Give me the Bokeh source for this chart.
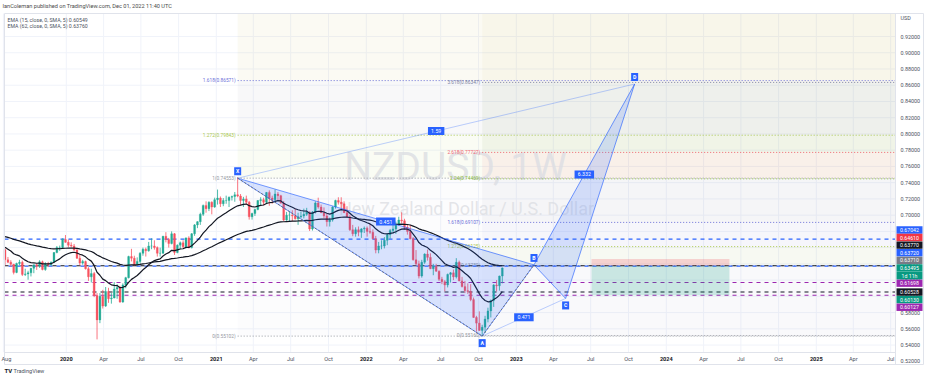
import pandas as pd
from bokeh.plotting import figure
from bokeh.models import ColumnDataSource
from bokeh.core.properties import value
from bokeh.embed import file_html
from bokeh.resources import INLINE

# ---------------- DATA ----------------
FIRST_WEEK = "2019-08-05"
first_open = 0.6575

highs_2019 = [0.6590, 0.6485, 0.6445, 0.6400, 0.6415, 0.6450, 0.6440, 0.6340, 0.6315, 0.6350, 0.6390,
              0.6405, 0.6445, 0.6440, 0.6420, 0.6425, 0.6430, 0.6545, 0.6620, 0.6625, 0.6715, 0.6755]
lows_2019 = [0.6380, 0.6410, 0.6365, 0.6270, 0.6285, 0.6380, 0.6250, 0.6250, 0.6205, 0.6245, 0.6285,
             0.6325, 0.6350, 0.6320, 0.6315, 0.6360, 0.6375, 0.6410, 0.6530, 0.6560, 0.6590, 0.6660]
closes_2019 = [0.6450, 0.6420, 0.6395, 0.6295, 0.6405, 0.6420, 0.6270, 0.6275, 0.6290, 0.6345, 0.6390,
               0.6370, 0.6425, 0.6330, 0.6405, 0.6390, 0.6420, 0.6540, 0.6600, 0.6600, 0.6700, 0.6665]

highs_2020 = [0.6700, 0.6665, 0.6645, 0.6595, 0.6515, 0.6450, 0.6440, 0.6360, 0.6340, 0.6300, 0.6040, 0.6040, 0.6080,
              0.6115, 0.6105, 0.6040, 0.6175, 0.6150, 0.6130, 0.6160, 0.6240, 0.6500, 0.6585, 0.6500, 0.6480, 0.6545,
              0.6600, 0.6600, 0.6670, 0.6715, 0.6690, 0.6615, 0.6600, 0.6745, 0.6790, 0.6720, 0.6800, 0.6780, 0.6640,
              0.6675, 0.6690, 0.6725, 0.6740, 0.6780, 0.6890, 0.6925, 0.7030, 0.7130, 0.7170, 0.7170, 0.7170, 0.7215]
lows_2020 = [0.6605, 0.6600, 0.6560, 0.6460, 0.6380, 0.6390, 0.6330, 0.6190, 0.6170, 0.5990, 0.5470, 0.5670, 0.5850,
             0.5870, 0.5920, 0.5910, 0.5975, 0.5970, 0.5920, 0.5920, 0.6100, 0.6220, 0.6430, 0.6380, 0.6380, 0.6400,
             0.6500, 0.6490, 0.6550, 0.6580, 0.6575, 0.6490, 0.6490, 0.6525, 0.6665, 0.6600, 0.6640, 0.6510, 0.6530,
             0.6580, 0.6590, 0.6590, 0.6590, 0.6590, 0.6745, 0.6840, 0.6880, 0.6990, 0.7030, 0.7050, 0.7010, 0.7090]
closes_2020 = [0.6630, 0.6620, 0.6570, 0.6470, 0.6410, 0.6430, 0.6340, 0.6240, 0.6280, 0.6010, 0.5710, 0.6000, 0.5880,
               0.6060, 0.5970, 0.5980, 0.6090, 0.6110, 0.5930, 0.6140, 0.6230, 0.6490, 0.6470, 0.6390, 0.6430, 0.6530,
               0.6580, 0.6560, 0.6620, 0.6620, 0.6600, 0.6530, 0.6530, 0.6740, 0.6700, 0.6650, 0.6770, 0.6540, 0.6630,
               0.6660, 0.6610, 0.6720, 0.6600, 0.6770, 0.6880, 0.6920, 0.7010, 0.7120, 0.7080, 0.7160, 0.7100, 0.7190]

highs_2021 = [0.7315, 0.7230, 0.7210, 0.7240, 0.7230, 0.7240, 0.7285, 0.7465, 0.7260, 0.7225, 0.7240, 0.7175, 0.7030,
              0.7080, 0.7185, 0.7220, 0.7215, 0.7285, 0.7305, 0.7240, 0.7315, 0.7285, 0.7250, 0.7175, 0.7040, 0.7045,
              0.7060, 0.7080, 0.7030, 0.7045, 0.7080, 0.7090, 0.7045, 0.7050, 0.7170, 0.7215, 0.7130, 0.7095, 0.7020,
              0.6970, 0.7110, 0.7190, 0.7220, 0.7220, 0.7170, 0.7110, 0.7000, 0.6880, 0.6850, 0.6860, 0.6840, 0.6860]
lows_2021 = [0.7130, 0.7100, 0.7110, 0.7140, 0.7100, 0.7180, 0.7165, 0.7220, 0.7120, 0.7100, 0.7130, 0.6945, 0.6945,
             0.6990, 0.7060, 0.7125, 0.7120, 0.7140, 0.7115, 0.7140, 0.7170, 0.7180, 0.7140, 0.6925, 0.6930, 0.6925,
             0.6925, 0.6945, 0.6880, 0.6960, 0.6960, 0.6990, 0.6805, 0.6810, 0.7020, 0.7080, 0.7025, 0.6960, 0.6860,
             0.6860, 0.6920, 0.7080, 0.7130, 0.7080, 0.7025, 0.6975, 0.6805, 0.6740, 0.6735, 0.6740, 0.6720, 0.6780]
closes_2021 = [0.7210, 0.7140, 0.7180, 0.7180, 0.7220, 0.7230, 0.7250, 0.7235, 0.7180, 0.7200, 0.7160, 0.6980, 0.7020,
               0.7070, 0.7180, 0.7190, 0.7160, 0.7280, 0.7210, 0.7190, 0.7260, 0.7240, 0.7150, 0.6940, 0.7000, 0.7000,
               0.6990, 0.6955, 0.6980, 0.6990, 0.7010, 0.7040, 0.6830, 0.7040, 0.7150, 0.7100, 0.7030, 0.6990, 0.6920,
               0.6940, 0.7100, 0.7180, 0.7160, 0.7140, 0.7030, 0.6980, 0.6820, 0.6770, 0.6820, 0.6790, 0.6830, 0.6840]

highs_2022 = [0.6860, 0.6890, 0.6825, 0.6745, 0.6670, 0.6690, 0.6730, 0.6780, 0.6830, 0.6890, 0.6920, 0.6980,
              0.7035, 0.6955, 0.6890, 0.6880, 0.6730, 0.6570, 0.6440, 0.6450, 0.6530, 0.6575, 0.6530, 0.6400,
              0.6400, 0.6320, 0.6240, 0.6200, 0.6280, 0.6300, 0.6330, 0.6470, 0.6440, 0.6240, 0.6190, 0.6160,
              0.6150, 0.5985, 0.5760, 0.5815, 0.5650, 0.5760, 0.5860, 0.5960, 0.6150, 0.6200, 0.6255, 0.6355]
lows_2022 = [0.6735, 0.6770, 0.6700, 0.6530, 0.6530, 0.6580, 0.6590, 0.6630, 0.6710, 0.6775, 0.6770, 0.6870,
             0.6900, 0.6820, 0.6760, 0.6700, 0.6440, 0.6380, 0.6220, 0.6230, 0.6400, 0.6440, 0.6335, 0.6260,
             0.6300, 0.6190, 0.6150, 0.6060, 0.6110, 0.6170, 0.6200, 0.6220, 0.6185, 0.6110, 0.6040, 0.6030,
             0.5940, 0.5735, 0.5565, 0.5575, 0.55102, 0.5550, 0.5680, 0.5740, 0.5870, 0.6060, 0.6070, 0.6160]
closes_2022 = [0.6800, 0.6790, 0.6710, 0.6570, 0.6620, 0.6620, 0.6690, 0.6760, 0.6810, 0.6830, 0.6890, 0.6940,
               0.6930, 0.6850, 0.6800, 0.6710, 0.6450, 0.6400, 0.6250, 0.6420, 0.6520, 0.6480, 0.6340, 0.6370,
               0.6310, 0.6210, 0.6180, 0.6140, 0.6270, 0.6290, 0.6240, 0.6420, 0.6190, 0.6120, 0.6070, 0.6060,
               0.5960, 0.5740, 0.5670, 0.5580, 0.5620, 0.5720, 0.5820, 0.5950, 0.6140, 0.6130, 0.6250, 0.63495]

ema15_start, ema62_start = 0.6626, 0.6745
ema_legend = ["EMA (15, close, 0, SMA, 5) 0.60549", "EMA (62, close, 0, SMA, 5) 0.63760"]

price_ticks = [0.52, 0.54, 0.56, 0.58, 0.60, 0.62, 0.64, 0.66, 0.68, 0.70, 0.72, 0.74,
               0.76, 0.78, 0.80, 0.82, 0.84, 0.86, 0.88, 0.90, 0.92]
time_tick_dates = ["2019-08-01",
                   "2020-01-01", "2020-04-01", "2020-07-01", "2020-10-01",
                   "2021-01-01", "2021-04-01", "2021-07-01", "2021-10-01",
                   "2022-01-01", "2022-04-01", "2022-07-01", "2022-10-01",
                   "2023-01-01", "2023-04-01", "2023-07-01", "2023-10-01",
                   "2024-01-01", "2024-04-01", "2024-07-01", "2024-10-01",
                   "2025-01-01", "2025-04-01", "2025-07-01"]
time_tick_labels = ["Aug", "2020", "Apr", "Jul", "Oct", "2021", "Apr", "Jul", "Oct", "2022", "Apr", "Jul", "Oct",
                    "2023", "Apr", "Jul", "Oct", "2024", "Apr", "Jul", "Oct", "2025", "Apr", "Jul"]

# XABCD pattern
pat_names = ["X", "A", "B", "C", "D"]
pat_dates = ["2021-02-22", "2022-10-10", "2023-02-13", "2023-05-01", "2023-10-16"]
pat_prices = [0.74553, 0.55102, 0.63874, 0.59742, 0.86150]
pat_ratio_labels = ["1.59", "0.451", "0.471", "6.332"]
pat_ratio_pairs = [("X", "D"), ("X", "B"), ("A", "C"), ("B", "D")]

# Fibonacci (left: retracement from X to A; right: trend extension from A)
fib_left_levels = [0, 1, 1.272, 1.618]
fib_left_values = [0.55102, 0.74553, 0.79843, 0.86571]
fib_right_levels = [0, 1, 1.272, 1.618, 2.24, 2.618, 3.618]
fib_right_values = [0.55160, 0.63780, 0.66125, 0.69107, 0.74469, 0.77727, 0.86347]

# short position tool
pos_dates = ["2023-07-03", "2024-06-03"]
pos_entry, pos_stop, pos_target = 0.63770, 0.64610, 0.60130

# horizontal lines across the chart
hline_prices = [0.67042, 0.63720, 0.63770, 0.61698, 0.60528, 0.60127]

# price scale badges
axis_badge_prices = [0.67042, 0.64610, 0.63770, 0.63720, 0.63710, 0.63495, 0.61698, 0.60528, 0.60130, 0.60127]
countdown_text = "1d 11h"

header_text = "IanColeman published on TradingView.com, Dec 01, 2022 11:40 UTC"
watermark_1 = "NZDUSD, 1W"
watermark_2 = "New Zealand Dollar / U.S. Dollar"

# ---------------- STYLES ----------------
UP, DOWN = "#22ab94", "#f7525f"
BLUE = "#2962ff"
FONT = value("Roboto")
fib_left_colors = ["#9598a1", "#9598a1", "#a8c64a", "#6b6fd8"]
fib_left_band = [("#787b86", 0.02), ("#a8c64a", 0.06), ("#787b86", 0.05), ("#c9b458", 0.07)]
fib_right_colors = ["#9598a1", "#9598a1", "#a8c64a", "#6b6fd8", "#8cbf3f", "#f0616d", "#7b7f9e"]
fib_right_band = [("#787b86", 0.02), ("#a8c64a", 0.06), ("#6b6fd8", 0.04), ("#787b86", 0.05),
                  ("#f23645", 0.06), ("#6f8f4a", 0.07), ("#c9b458", 0.05)]
hline_colors = [BLUE, BLUE, "#131722", "#9c27b0", "#131722", "#9c27b0"]
hline_offsets = [0, 4, 0, 0, 0, 0]
axis_badge_colors = [BLUE, "#f23645", "#131722", BLUE, "#787b86", "#089981", "#9c27b0", "#131722", "#089981", "#9c27b0"]

# ---------------- HELPERS ----------------
W, H = 924, 375


def rx(px):  # canvas pixel -> year
    return 2022.5 + (px - 440.8) / 150.0


def ry(py):  # canvas pixel -> price
    return 0.92 - (py - 36.0) / 812.0


def dxp(n):
    return n / 150.0


def dyp(n):
    return n / 812.0


def fy(d):
    d = pd.Timestamp(d)
    days = 366 if d.is_leap_year else 365
    return d.year + (d.dayofyear - 1) / days


def ema(vals, n, seed):
    a = 2.0 / (n + 1)
    out, e = [], seed
    for v in vals:
        e = a * v + (1 - a) * e
        out.append(e)
    return out


highs = highs_2019 + highs_2020 + highs_2021 + highs_2022
lows = lows_2019 + lows_2020 + lows_2021 + lows_2022
closes = closes_2019 + closes_2020 + closes_2021 + closes_2022
opens = [first_open] + closes[:-1]
dates = pd.date_range(FIRST_WEEK, periods=len(closes), freq="7D")
xs = [fy(d) for d in dates]

# panel / scale layout (canvas pixels)
L, R, T, B = rx(4), rx(895), ry(13), ry(352)
AXR, BOT = rx(923), ry(364)

p = figure(width=W, height=H, x_range=(rx(0), rx(W)), y_range=(ry(H), ry(0)),
           output_backend="svg", toolbar_location=None, x_axis_type=None, y_axis_type=None)
p.min_border_left = p.min_border_right = p.min_border_top = p.min_border_bottom = 0
p.outline_line_color = None
p.background_fill_color = "white"
p.border_fill_color = "white"

# grid
p.segment(x0=[L] * len(price_ticks), x1=[R] * len(price_ticks), y0=price_ticks, y1=price_ticks,
          line_color="#f0f3fa", line_width=1)
txs = [fy(d) for d in time_tick_dates]
p.segment(x0=txs, x1=txs, y0=[B] * len(txs), y1=[T] * len(txs), line_color="#f0f3fa", line_width=1)

# fib bands
xX = fy(pat_dates[0])
xA = fy(pat_dates[1])
lv = fib_left_values + [T]
for i, (c, a) in enumerate(fib_left_band):
    p.quad(left=xX, right=R, bottom=lv[i], top=lv[i + 1], fill_color=c, fill_alpha=a, line_color=None)
rv = fib_right_values + [T]
for i, (c, a) in enumerate(fib_right_band):
    p.quad(left=xA, right=R, bottom=rv[i], top=rv[i + 1], fill_color=c, fill_alpha=a, line_color=None)

# watermark
p.text(x=[rx(455)], y=[ry(166)], text=[watermark_1], text_font=FONT, text_font_size="39px",
       text_color="#dcdee3", text_alpha=0.8, text_align="center", text_baseline="middle")
p.text(x=[rx(466)], y=[ry(208)], text=[watermark_2], text_font=FONT, text_font_size="18px",
       text_color="#dcdee3", text_alpha=0.8, text_align="center", text_baseline="middle")

# fib lines + labels
for vals, levels, colors, x0 in [(fib_left_values, fib_left_levels, fib_left_colors, xX),
                                 (fib_right_values, fib_right_levels, fib_right_colors, xA)]:
    n = len(vals)
    p.segment(x0=[x0] * n, x1=[R] * n, y0=vals, y1=vals, line_color=colors, line_width=1, line_dash="1 2")
    p.text(x=[x0 - dxp(2)] * n, y=vals, text=[f"{l:g}({v:.5f})" for l, v in zip(levels, vals)],
           text_color=colors, text_font=FONT, text_font_size="4.8px", text_align="right", text_baseline="middle")

# full-width horizontal lines
for v, c, off in zip(hline_prices, hline_colors, hline_offsets):
    p.segment(x0=[L], x1=[R], y0=[v], y1=[v], line_color=c, line_width=1.1, line_dash="4 4",
              line_dash_offset=off)

# position tool
px0, px1 = fy(pos_dates[0]), fy(pos_dates[1])
p.quad(left=px0, right=px1, bottom=pos_entry, top=pos_stop, fill_color="#f23645", fill_alpha=0.2, line_color=None)
p.quad(left=px0, right=px1, bottom=pos_target, top=pos_entry, fill_color="#089981", fill_alpha=0.2, line_color=None)

# candles
colors = [UP if c >= o else DOWN for o, c in zip(opens, closes)]
src = ColumnDataSource(dict(x=xs, o=opens, h=highs, l=lows, c=closes, color=colors,
                            top=[max(o, c) for o, c in zip(opens, closes)],
                            bottom=[min(o, c) for o, c in zip(opens, closes)]))
p.segment(x0="x", x1="x", y0="l", y1="h", line_color="color", line_width=0.8, source=src)
p.vbar(x="x", width=dxp(1.9), top="top", bottom="bottom", fill_color="color", line_color="color",
       line_width=0.3, source=src)

# EMAs
p.line(xs, ema(closes, 15, ema15_start), line_color="#131722", line_width=1.2)
p.line(xs, ema(closes, 62, ema62_start), line_color="#131722", line_width=1.2)

# XABCD pattern
pt = {n: (fy(d), v) for n, d, v in zip(pat_names, pat_dates, pat_prices)}
for tri in [("X", "A", "B"), ("B", "C", "D")]:
    p.patch([pt[k][0] for k in tri], [pt[k][1] for k in tri], fill_color=BLUE, fill_alpha=0.17,
            line_color=BLUE, line_alpha=0.65, line_width=1)
for a, b in [("X", "D"), ("A", "C")]:
    p.segment(x0=[pt[a][0]], y0=[pt[a][1]], x1=[pt[b][0]], y1=[pt[b][1]], line_color=BLUE,
              line_alpha=0.3, line_width=1)
for a, b in [("X", "A"), ("A", "B")]:
    p.segment(x0=[pt[a][0]], y0=[pt[a][1]], x1=[pt[b][0]], y1=[pt[b][1]], line_color="#6a6d78",
              line_width=1, line_dash="2 2")
# ratio badges
for lab, (a, b) in zip(pat_ratio_labels, pat_ratio_pairs):
    mx, my = (pt[a][0] + pt[b][0]) / 2, (pt[a][1] + pt[b][1]) / 2
    w = 4 + 3.1 * len(lab)
    p.rect(x=[mx], y=[my], width=dxp(w), height=dyp(8), fill_color=BLUE, line_color=None)
    p.text(x=[mx], y=[my], text=[lab], text_color="white", text_font=FONT, text_font_size="5.2px",
           text_align="center", text_baseline="middle")
# point badges
pat_side = {"X": -7, "A": 7, "B": -7, "C": 7, "D": -7}
for n in pat_names:
    bx, by = pt[n][0], pt[n][1] - dyp(pat_side[n])
    p.rect(x=[bx], y=[by], width=dxp(7), height=dyp(8), fill_color=BLUE, line_color=None)
    p.text(x=[bx], y=[by], text=[n], text_color="white", text_font=FONT, text_font_size="5.2px",
           text_font_style="bold", text_align="center", text_baseline="middle")

# ---------------- FRAME / SCALES ----------------
p.quad(left=R, right=rx(W), bottom=ry(H), top=ry(0), fill_color="white", line_color=None)
p.quad(left=rx(0), right=R, bottom=ry(H), top=B, fill_color="white", line_color=None)
border = "#e0e3eb"
p.segment(x0=[L, L, R, AXR, L, L], x1=[AXR, AXR, R, AXR, L, R],
          y0=[T, BOT, T, T, T, B], y1=[T, BOT, BOT, BOT, BOT, B], line_color=border, line_width=1)

# price scale
p.text(x=[rx(900)] * len(price_ticks), y=price_ticks, text=[f"{t:.5f}" for t in price_ticks],
       text_color="#4c525e", text_font=FONT, text_font_size="5.4px", text_align="left", text_baseline="middle")
p.text(x=[rx(900)], y=[ry(17)], text=["USD"], text_color="#4c525e", text_font=FONT,
       text_font_size="5.4px", text_align="left", text_baseline="middle")

# price badges, stacked like TradingView
anchor = closes[-1]
hb = dyp(7.6)
disp = {}
above = sorted([i for i, v in enumerate(axis_badge_prices) if v > anchor], key=lambda i: axis_badge_prices[i])
prev = anchor
for i in above:
    prev = max(axis_badge_prices[i], prev + hb)
    disp[i] = prev
below = sorted([i for i, v in enumerate(axis_badge_prices) if v < anchor], key=lambda i: -axis_badge_prices[i])
prev = anchor - hb
for i in below:
    prev = min(axis_badge_prices[i], prev - hb)
    disp[i] = prev
cur = [i for i, v in enumerate(axis_badge_prices) if v == anchor][0]
disp[cur] = anchor
bx = rx(909)
bys = [disp[i] for i in range(len(axis_badge_prices))]
p.rect(x=[bx] * len(bys), y=bys, width=dxp(26), height=dyp(7.4), fill_color=axis_badge_colors, line_color=None)
p.rect(x=[bx], y=[anchor - hb], width=dxp(26), height=dyp(7.6), fill_color=axis_badge_colors[cur], line_color=None)
p.text(x=[bx] * len(bys), y=bys, text=[f"{v:.5f}" for v in axis_badge_prices], text_color="white",
       text_font=FONT, text_font_size="5.2px", text_align="center", text_baseline="middle")
p.text(x=[bx], y=[anchor - hb], text=[countdown_text], text_color="white", text_font=FONT,
       text_font_size="5.2px", text_align="center", text_baseline="middle")

# time scale
YL = ry(358)
yr_idx = [i for i, t in enumerate(time_tick_labels) if t.isdigit()]
mo_idx = [i for i, t in enumerate(time_tick_labels) if not t.isdigit()]
p.text(x=[txs[i] for i in yr_idx], y=[YL] * len(yr_idx), text=[time_tick_labels[i] for i in yr_idx],
       text_color="#131722", text_font=FONT, text_font_size="5.6px", text_font_style="bold",
       text_align="center", text_baseline="middle")
first_mo = [i for i in mo_idx if txs[i] < L + dxp(6)]
mid_mo = [i for i in mo_idx if i not in first_mo]
p.text(x=[txs[i] for i in mid_mo], y=[YL] * len(mid_mo), text=[time_tick_labels[i] for i in mid_mo],
       text_color="#4c525e", text_font=FONT, text_font_size="5.6px",
       text_align="center", text_baseline="middle")
p.text(x=[rx(1)] * len(first_mo), y=[YL] * len(first_mo), text=[time_tick_labels[i] for i in first_mo],
       text_color="#4c525e", text_font=FONT, text_font_size="5.6px",
       text_align="left", text_baseline="middle")

# header, legend, logo
p.text(x=[rx(2)], y=[ry(5.5)], text=[header_text], text_color="#4a4a4a", text_font=FONT,
       text_font_size="5.6px", text_align="left", text_baseline="middle")
p.text(x=[rx(7)] * 2, y=[ry(19.3), ry(25.3)], text=ema_legend, text_color="#4c525e", text_font=FONT,
       text_font_size="5.2px", text_align="left", text_baseline="middle")
p.text(x=[rx(4)], y=[ry(370)], text=["TV"], text_color="#131722", text_font=FONT, text_font_size="6px",
       text_font_style="bold", text_align="left", text_baseline="middle")
p.text(x=[rx(13)], y=[ry(370)], text=["TradingView"], text_color="#4c525e", text_font=FONT,
       text_font_size="5.6px", text_align="left", text_baseline="middle")

open("out.html", "w").write(file_html(p, INLINE))
